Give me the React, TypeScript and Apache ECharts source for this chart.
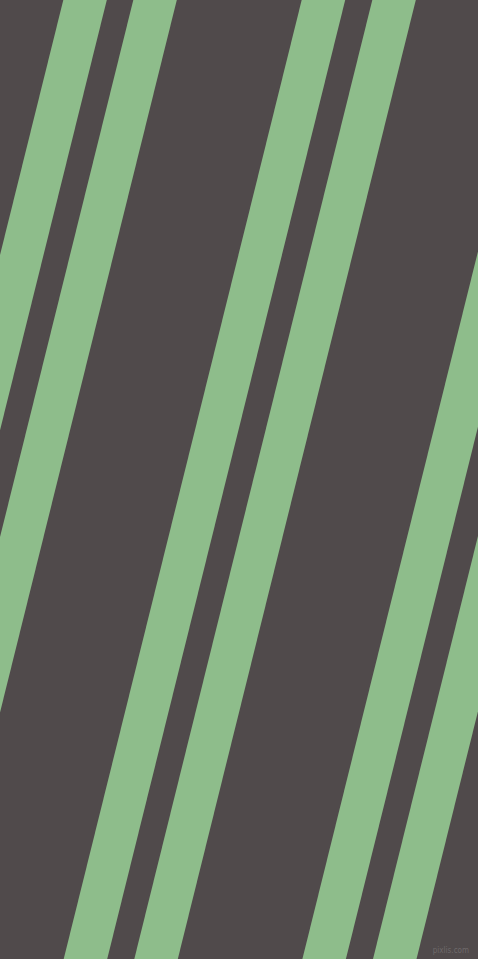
import { useEffect, useRef } from 'react';
import * as echarts from 'echarts';

// x position where each stripe's left edge meets the top of the picture
const stripeTops = [-175.4, -105.4, 63.3, 133.3, 301.7, 372.3, 540.4, 611];
// horizontal width of every stripe
const stripeWidths = [43.5, 43.5, 43.5, 43.5, 43.5, 43.5, 43.5, 43.5];
const drift = 238; // how far a stripe moves left from top to bottom
const W = 478;
const H = 959;

const App: React.FC = () => {
  const divRef = useRef<HTMLDivElement | null>(null);

  useEffect(() => {
    document.body.style.margin = '0';
    if (!divRef.current) return;
    const chart = echarts.init(divRef.current, null, { renderer: 'svg' });

    const data = stripeTops.map((x, i) => [x, stripeWidths[i]]);

    chart.setOption({
      animation: false,
      backgroundColor: '#504a4b',
      grid: { left: 0, right: 0, top: 0, bottom: 0 },
      xAxis: { type: 'value', min: 0, max: W, show: false },
      yAxis: { type: 'value', min: 0, max: H, inverse: true, show: false },
      series: [
        {
          type: 'custom',
          clip: true,
          data,
          renderItem: (_params: any, api: any) => {
            const x = api.value(0);
            const w = api.value(1);
            const pts = [
              api.coord([x, 0]),
              api.coord([x + w, 0]),
              api.coord([x + w - drift, H]),
              api.coord([x - drift, H]),
            ];
            return {
              type: 'polygon',
              shape: { points: pts },
              style: { fill: '#8ebd8b' },
            };
          },
        },
      ],
      graphic: [
        {
          type: 'text',
          right: 9,
          bottom: 5,
          style: {
            text: 'pixlis.com',
            fill: '#6e696a',
            font: '8px "DejaVu Sans Condensed", sans-serif',
          },
        },
      ],
    });

    return () => chart.dispose();
  }, []);

  return <div ref={divRef} style={{ width: W, height: H }} />;
};

export default App;
